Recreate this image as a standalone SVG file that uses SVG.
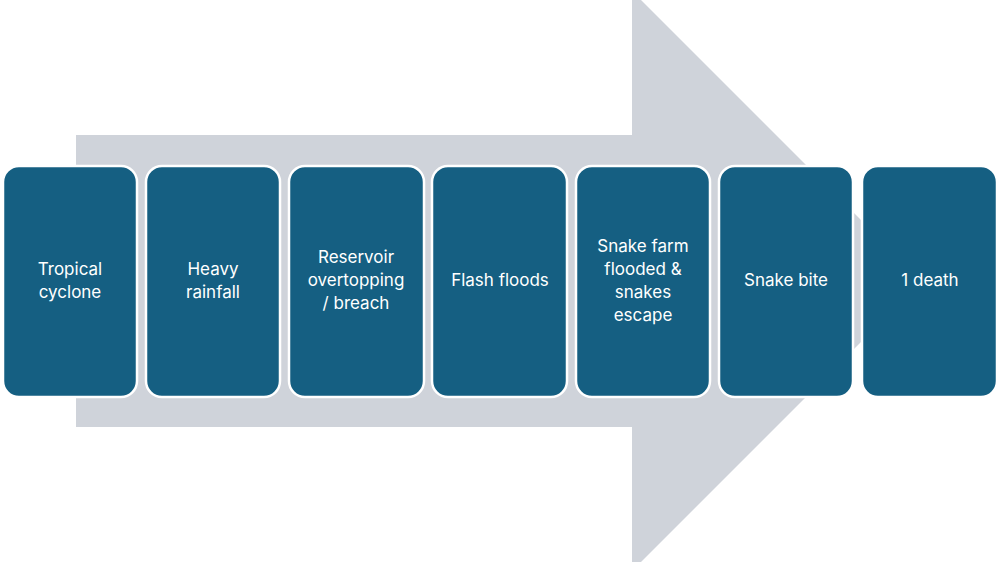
<svg xmlns="http://www.w3.org/2000/svg" width="1000" height="562" viewBox="0 0 1000 562">
<style>
.b{fill:#155f82;stroke:#fff;stroke-width:2.5}
.t{fill:#fff;font-family:Inter,"Liberation Sans",sans-serif;font-size:17px;text-anchor:middle}
</style>
<rect width="1000" height="562" fill="#fff"/>
<g id="arrow"><polygon points="76,135 632,135 632,-9 922,281 632,571 632,427 76,427" fill="#cfd3da"/></g>
<g id="connectors"></g>
<g id="n1"><rect class="b" x="3" y="166" width="134" height="231" rx="16"/><text class="t" x="70" y="275">Tropical</text><text class="t" x="70" y="298">cyclone</text></g>
<g id="n2"><rect class="b" x="146" y="166" width="134" height="231" rx="16"/><text class="t" x="213" y="275">Heavy</text><text class="t" x="213" y="298">rainfall</text></g>
<g id="n3"><rect class="b" x="289" y="166" width="135" height="231" rx="16"/><text class="t" x="356" y="263">Reservoir</text><text class="t" x="356" y="286">overtopping</text><text class="t" x="356" y="309">/ breach</text></g>
<g id="n4"><rect class="b" x="432" y="166" width="135" height="231" rx="16"/><text class="t" x="500" y="286">Flash floods</text></g>
<g id="n5"><rect class="b" x="576" y="166" width="134" height="231" rx="16"/><text class="t" x="643" y="252">Snake farm</text><text class="t" x="643" y="275">flooded &amp;</text><text class="t" x="643" y="298">snakes</text><text class="t" x="643" y="321">escape</text></g>
<g id="n6"><rect class="b" x="719" y="166" width="134" height="231" rx="16"/><text class="t" x="786" y="286">Snake bite</text></g>
<g id="n7"><rect class="b" x="862" y="166" width="135" height="231" rx="16"/><text class="t" x="930" y="286">1 death</text></g>
</svg>
